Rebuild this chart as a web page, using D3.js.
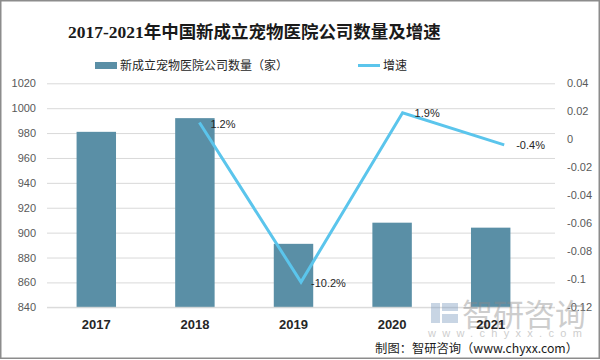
<!DOCTYPE html>
<html><head><meta charset="utf-8">
<script src="https://cdn.jsdelivr.net/npm/d3@7"></script>
<style>body{margin:0;background:#fff}svg{display:block}</style>
</head><body>
<svg id="c" width="600" height="360"></svg>
<script>
const years = ["2017","2018","2019","2020","2021"];
const counts = [981, 992, 891, 908, 904];
const growthYears = ["2018","2019","2020","2021"];
const growth = [0.012, -0.102, 0.019, -0.004];
const growthLabels = ["1.2%","-10.2%","1.9%","-0.4%"];
const leftTicks = [840,860,880,900,920,940,960,980,1000,1020];
const rightTicks = [0.04,0.02,0,-0.02,-0.04,-0.06,-0.08,-0.1,-0.12];

(function(){
const svg = d3.select("#c");
const cjk = "'Noto Sans CJK SC', 'Noto Sans', sans-serif";
const pTop = 83.3, pBottom = 307.3, pLeft = 47, pRight = 555;

svg.append("rect").attr("x",0.75).attr("y",0.75).attr("width",598.5).attr("height",357.5)
  .attr("fill","#fff").attr("stroke","#8c8c8c").attr("stroke-width",1.5);

const yL = d3.scaleLinear().domain([840,1020]).range([pBottom, pTop]);
const yR = d3.scaleLinear().domain([-0.12,0.04]).range([pBottom, pTop]);
const xBar = d3.scaleBand().domain(years).range([pLeft, 540]).paddingInner(0.6).paddingOuter(0.3);
const xLine = d3.scaleBand().domain(years).range([pLeft, pRight]);

// gridlines
const gl = d3.axisLeft(yL).tickValues(leftTicks).tickSize(-(pRight-pLeft)).tickFormat("");
svg.append("g").attr("transform",`translate(${pLeft},0)`).call(gl)
  .call(g=>g.select(".domain").remove())
  .call(g=>g.selectAll("line").attr("stroke","#d9d9d9").attr("stroke-width",1));

// left axis labels
svg.append("g").attr("transform",`translate(${pLeft-11},0)`)
  .call(d3.axisLeft(yL).tickValues(leftTicks).tickSize(0).tickPadding(0).tickFormat(d=>String(d)))
  .call(g=>g.select(".domain").remove())
  .call(g=>g.selectAll("text").attr("fill","#595959").attr("font-size","11px").attr("font-family","'Liberation Sans', Arial, sans-serif"));

// right axis labels
svg.append("g").attr("transform",`translate(${pRight+12},0)`)
  .call(d3.axisRight(yR).tickValues(rightTicks).tickSize(0).tickPadding(0).tickFormat(d=>d===0?"0":String(d)))
  .call(g=>g.select(".domain").remove())
  .call(g=>g.selectAll("text").attr("fill","#595959").attr("font-size","11px").attr("font-family","'Liberation Sans', Arial, sans-serif"));

// bars
svg.append("g").selectAll("rect").data(years).join("rect")
  .attr("x",d=>xBar(d)).attr("width",xBar.bandwidth())
  .attr("y",(d,i)=>yL(counts[i])).attr("height",(d,i)=>pBottom-yL(counts[i]))
  .attr("fill","#5a8fa6");

// x axis line
svg.append("line").attr("x1",pLeft).attr("x2",pRight).attr("y1",pBottom).attr("y2",pBottom).attr("stroke","#d9d9d9");

// watermark
const wm = svg.append("g").attr("opacity",0.42);
wm.append("rect").attr("x",431).attr("y",303).attr("width",9).attr("height",20).attr("fill","#7d9cc0");
wm.append("rect").attr("x",442).attr("y",303).attr("width",16).attr("height",8).attr("fill","#7d9cc0");
wm.append("rect").attr("x",442).attr("y",314).attr("width",16).attr("height",9).attr("fill","#7d9cc0");
wm.append("text").attr("x",462).attr("y",326).attr("font-size","31px").attr("fill","#8a8a8a").attr("font-family",cjk).text("智研咨询");
wm.append("text").attr("x",428).attr("y",337).attr("font-size","11px").attr("fill","#8a8a8a").attr("letter-spacing","6.3px").attr("font-family","'Liberation Sans', sans-serif").text("www.chyxx.com");

// x labels
svg.append("g").attr("transform",`translate(0,${pBottom+12})`)
  .call(d3.axisBottom(xBar).tickSize(0).tickPadding(0))
  .call(g=>g.select(".domain").remove())
  .call(g=>g.selectAll("text").attr("fill","#262626").attr("font-size","13px").attr("font-weight","bold").attr("font-family","'Liberation Sans', Arial, sans-serif"));

// line
const line = d3.line().x((d,i)=>xLine(growthYears[i])+xLine.bandwidth()/2).y(d=>yR(d));
svg.append("path").datum(growth).attr("d",line).attr("fill","none")
  .attr("stroke","#5bc5ec").attr("stroke-width",3).attr("stroke-linejoin","miter");

// line labels
const lblOff = [[11,5],[10,5],[12,4],[12,4]];
svg.append("g").selectAll("text").data(growth).join("text")
  .attr("x",(d,i)=>xLine(growthYears[i])+xLine.bandwidth()/2+lblOff[i][0])
  .attr("y",(d,i)=>yR(d)+lblOff[i][1])
  .attr("font-size","11px").attr("fill","#262626").attr("font-family","'Liberation Sans', Arial, sans-serif")
  .text((d,i)=>growthLabels[i]);

// title
const title = svg.append("text").attr("x",68).attr("y",38)
  .attr("font-size","20px").attr("font-weight","bold").attr("fill","#1a1a1a")
  .attr("font-family","'Liberation Serif', 'Noto Sans CJK SC', serif")
  .text("2017-2021年中国新成立宠物医院公司数量及增速");
const tl = title.node().getComputedTextLength();
if (tl > 0) title.attr("font-size", (20*373/tl).toFixed(2)+"px");

// legend
svg.append("rect").attr("x",95).attr("y",62).attr("width",22).attr("height",7).attr("fill","#5a8fa6");
svg.append("text").attr("x",120).attr("y",70).attr("font-size","12px").attr("fill","#262626").attr("font-family",cjk).text("新成立宠物医院公司数量（家）");
svg.append("line").attr("x1",358).attr("x2",380).attr("y1",65.5).attr("y2",65.5).attr("stroke","#5bc5ec").attr("stroke-width",3);
svg.append("text").attr("x",383).attr("y",70).attr("font-size","12px").attr("fill","#262626").attr("font-family",cjk).text("增速");

// source
const src = svg.append("text").attr("x",578).attr("y",353).attr("text-anchor","end").attr("font-size","13px").attr("fill","#1a1a1a").attr("font-family",cjk).text("制图：智研咨询（www.chyxx.com）");
const sl = src.node().getComputedTextLength();
if (sl > 0) src.attr("font-size", (13*203/sl).toFixed(2)+"px");
})();
</script>
</body></html>
